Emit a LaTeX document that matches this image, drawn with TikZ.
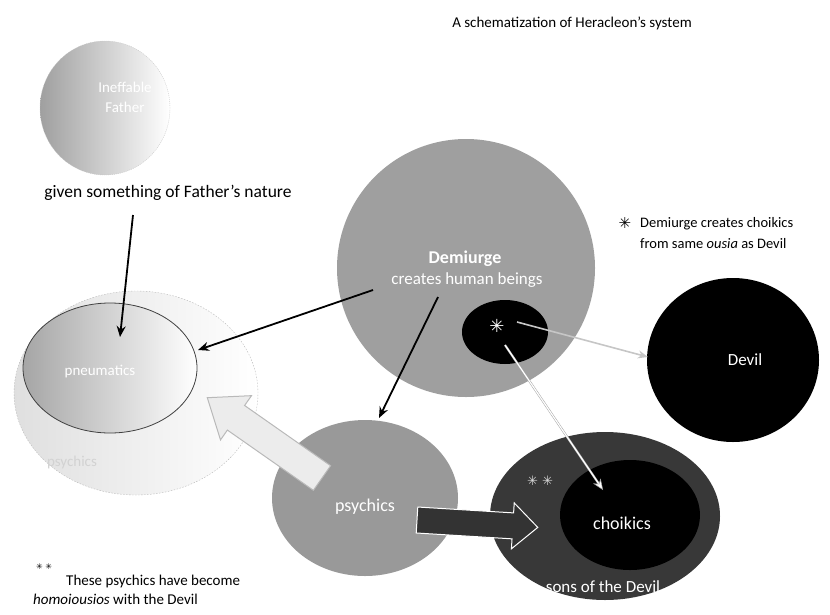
\documentclass[tikz,border=0pt]{standalone}
\usepackage{fontspec}
\setmainfont{Carlito}
\newfontfamily\symfont{DejaVu Sans}
\usetikzlibrary{arrows.meta,shapes.geometric}
\begin{document}
\begin{tikzpicture}[x=1pt,y=-1pt,
  blob/.style={ellipse, inner sep=0pt},
  lbl/.style={inner sep=0pt, text=white},
  txt/.style={inner sep=0pt, text=black},
  blackarrow/.style={draw=black, line width=1.8pt, -{Stealth[length=11pt,width=9pt]}},
  grayarrow/.style={draw=gray!45, line width=1.6pt, -{Stealth[length=10pt,width=8pt]}},
  whitearrow/.style={draw=gray!70, double=white, double distance=1.2pt, line width=0.5pt, -{Stealth[length=11pt,width=9pt,fill=white]}},
  blockarrow/.style={line width=1pt}
]
\useasboundingbox (0,0) rectangle (830,614);

% title
\node[txt, font=\fontsize{15}{18}\selectfont] (title) at (572,23) {A schematization of Heracleon’s system};

% left outer ellipse
\node[blob, minimum width=244pt, minimum height=204pt, left color=gray!25, right color=white, draw=gray!55, dash pattern=on 1.5pt off 1.5pt] (outer) at (136,393) {};
\node[inner sep=0pt, text=gray!35, font=\fontsize{15}{18}\selectfont] (outertxt) at (72,462) {psychics};

% pneumatics
\node[blob, minimum width=174pt, minimum height=130pt, left color=gray!70, right color=white, draw=black!75, line width=0.8pt] (pneu) at (110,368) {};
\node[lbl, font=\fontsize{15}{18}\selectfont] (pneutxt) at (100,372) {pneumatics};

% Father
\node[blob, minimum width=130pt, minimum height=134pt, left color=gray!75, right color=white, draw=gray!45, dash pattern=on 1pt off 1pt] (father) at (105,108) {};
\node[lbl, align=center, font=\fontsize{15}{20}\selectfont] (fathertxt) at (125,97) {Ineffable\\Father};

\node[txt, font=\fontsize{17.5}{20}\selectfont] (given) at (168,193) {given something of Father’s nature};

% Demiurge
\node[circle, inner sep=0pt, minimum size=258pt, fill=gray!75] (demi) at (466,268) {};
\node[lbl, font=\fontsize{18}{20}\selectfont\bfseries] (demitxt) at (465,259) {Demiurge};
\node[lbl, font=\fontsize{17}{20}\selectfont] (demitxt2) at (467,280) {creates human beings};
\node[blob, minimum width=86pt, minimum height=64pt, fill=black] (star) at (505,332) {};
\node[lbl, font=\symfont\fontsize{18}{20}\selectfont] (startxt) at (497,326) {✳};

% Devil
\node[blob, minimum width=172pt, minimum height=164pt, fill=black] (devil) at (733,360) {};
\node[lbl, font=\fontsize{17}{20}\selectfont] (deviltxt) at (745,360) {Devil};

% note
\node[txt, font=\symfont\fontsize{15}{18}\selectfont] (notestar) at (625,223) {✳};
\node[txt, anchor=west, align=left, font=\fontsize{14.5}{21}\selectfont] (note) at (640,233) {Demiurge creates choikics\\from same \textit{ousia} as Devil};

% psychics
\node[blob, minimum width=186pt, minimum height=156pt, fill=gray!80] (psy) at (365,498) {};
\node[lbl, font=\fontsize{18}{20}\selectfont] (psytxt) at (365,507) {psychics};

% sons of the Devil
\node[blob, minimum width=230pt, minimum height=168pt, fill=black!78] (sons) at (605,516) {};
\node[blob, minimum width=140pt, minimum height=110pt, fill=black] (choi) at (630,515) {};
\node[lbl, font=\fontsize{18}{20}\selectfont] (choitxt) at (622,523) {choikics};
\node[lbl, font=\fontsize{17}{20}\selectfont] (sonstxt) at (603,587) {sons of the Devil};
\node[lbl, text=gray!30, font=\symfont\fontsize{13}{15}\selectfont] (sonsstar) at (540,481) {✳ ✳};

% bottom-left note
\node[txt, font=\symfont\fontsize{8}{10}\selectfont] (bstar) at (44,567) {✳ ✳};
\node[txt, anchor=west, font=\fontsize{15}{18}\selectfont] (bnote1) at (66,581) {These psychics have become};
\node[txt, anchor=west, font=\fontsize{15}{18}\selectfont] (bnote2) at (33,599) {\textit{homoiousios} with the Devil};

% connector coordinates
\coordinate (g0) at (133,215);
\coordinate (g1) at (120,337);
\coordinate (d0) at (373,290);
\coordinate (d1) at (198,350);
\coordinate (e0) at (438,297);
\coordinate (e1) at (379,418);
\coordinate (s0) at (517,322);
\coordinate (s1) at (648,357);
\coordinate (c0) at (505,345);
\coordinate (c1) at (603,490);

\draw[blackarrow] (g0) -- (g1);
\draw[blackarrow] (d0) -- (d1);
\draw[blackarrow] (e0) -- (e1);
\draw[grayarrow] (s0) -- (s1);
\draw[whitearrow] (c0) -- (c1);

% block arrows
\begin{scope}[shift={(322,478)}, rotate=145]
\draw[blockarrow, fill=gray!15, draw=gray!55] (0,-15) -- (105,-15) -- (105,-27) -- (140,0) -- (105,27) -- (105,15) -- (0,15) -- cycle;
\end{scope}
\begin{scope}[shift={(417,520)}, rotate=-3.5]
\draw[blockarrow, fill=black!80, draw=white] (0,-13) -- (96,-13) -- (96,-23) -- (121,0) -- (96,23) -- (96,13) -- (0,13) -- cycle;
\end{scope}
\end{tikzpicture}
\end{document}
